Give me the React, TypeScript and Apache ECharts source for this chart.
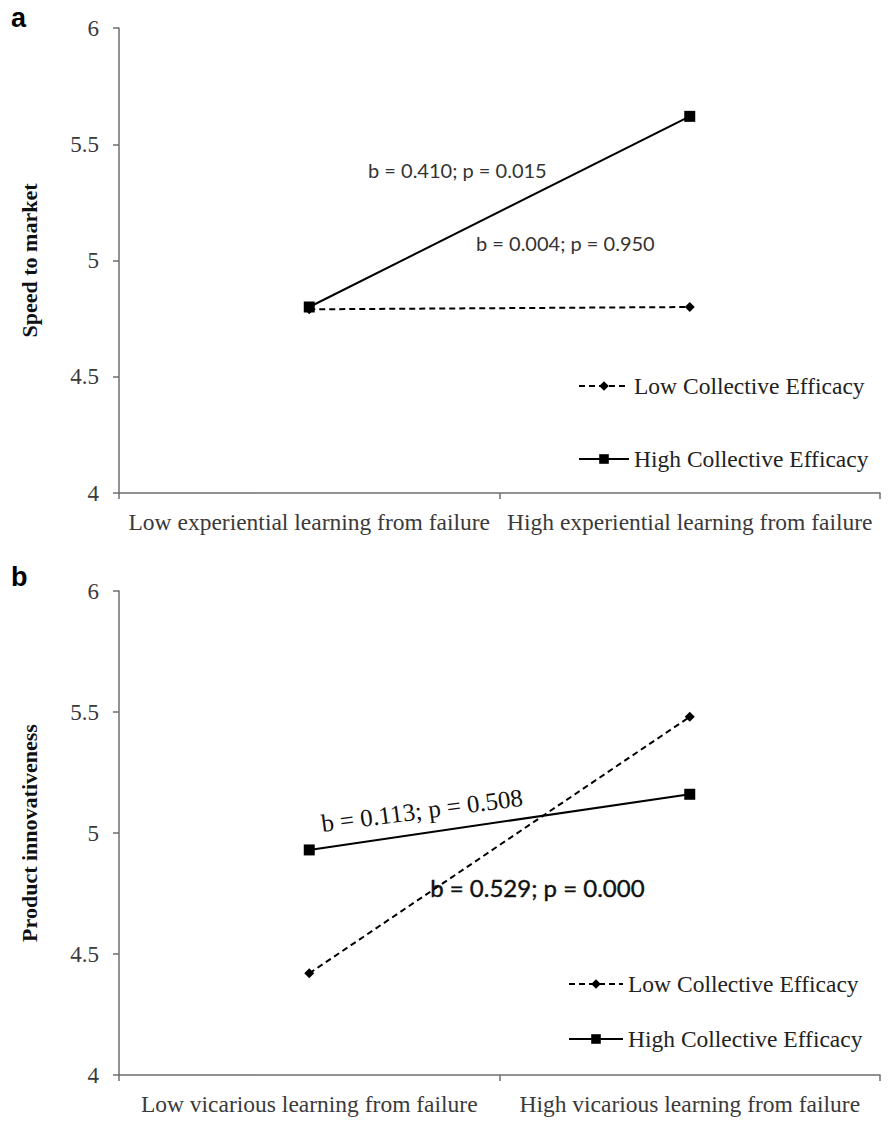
import React, { useEffect, useRef } from "react";
import * as echarts from "echarts";

const categoriesA = ["Low experiential learning from failure", "High experiential learning from failure"];
const categoriesB = ["Low vicarious learning from failure", "High vicarious learning from failure"];
const lowCE_A = [4.79, 4.8];
const highCE_A = [4.8, 5.62];
const lowCE_B = [4.42, 5.48];
const highCE_B = [4.93, 5.16];
const seriesNames = ["Low Collective Efficacy", "High Collective Efficacy"];
const annotations = {
  a1: "b = 0.410; p = 0.015",
  a2: "b = 0.004; p = 0.950",
  b1: "b = 0.113; p = 0.508",
  b2: "b = 0.529; p = 0.000",
};

const SERIF = "'Liberation Serif', 'Times New Roman', serif";
const SANS = "Lato, 'Open Sans', sans-serif";
const AXIS_COLOR = "#6e6e6e";
const LABEL_COLOR = "#3a3a3a";

function makeXAxis(gridIndex: number, data: string[]) {
  return {
    type: "category",
    gridIndex,
    data,
    boundaryGap: true,
    axisLine: { show: true, lineStyle: { color: AXIS_COLOR, width: 1.5 } },
    axisTick: { show: true, length: 6, alignWithLabel: false, lineStyle: { color: AXIS_COLOR, width: 1.5 } },
    axisLabel: { fontFamily: SERIF, fontSize: 23.5, color: LABEL_COLOR, margin: 17, interval: 0, hideOverlap: false },
    splitLine: { show: false },
  };
}

function makeYAxis(gridIndex: number, name: string) {
  return {
    type: "value",
    gridIndex,
    min: 4,
    max: 6,
    interval: 0.5,
    name,
    nameLocation: "middle",
    nameGap: 79,
    nameTextStyle: { fontFamily: SERIF, fontSize: 22, fontWeight: "bold", color: "#111" },
    axisLine: { show: true, lineStyle: { color: AXIS_COLOR, width: 1.5 } },
    axisTick: { show: true, length: 6, inside: false, lineStyle: { color: AXIS_COLOR, width: 1.5 } },
    axisLabel: { fontFamily: SERIF, fontSize: 23, color: LABEL_COLOR, margin: 20 },
    splitLine: { show: false },
  };
}

function lowSeries(idx: number, data: number[]) {
  return {
    name: seriesNames[0],
    type: "line",
    xAxisIndex: idx,
    yAxisIndex: idx,
    data,
    symbol: "diamond",
    symbolSize: 10,
    itemStyle: { color: "#000" },
    lineStyle: { color: "#000", width: 2, type: [6, 4] },
    z: 2,
  };
}

function highSeries(idx: number, data: number[]) {
  return {
    name: seriesNames[1],
    type: "line",
    xAxisIndex: idx,
    yAxisIndex: idx,
    data,
    symbol: "rect",
    symbolSize: 11,
    itemStyle: { color: "#000" },
    lineStyle: { color: "#000", width: 2, type: "solid" },
    z: 3,
  };
}

export default function App() {
  const ref = useRef<HTMLDivElement>(null);
  useEffect(() => {
    if (!ref.current) return;
    const chart = echarts.init(ref.current, undefined, { renderer: "svg" });
    const legendCommon = {
      orient: "vertical",
      itemHeight: 12,
      textStyle: { fontFamily: SERIF, fontSize: 23.5, color: "#222" },
      selectedMode: false,
      data: seriesNames,
    };
    chart.setOption({
      animation: false,
      backgroundColor: "#fff",
      grid: [
        { left: 119, right: 9, top: 28, height: 465 },
        { left: 119, right: 9, top: 591, height: 484 },
      ],
      xAxis: [makeXAxis(0, categoriesA), makeXAxis(1, categoriesB)],
      yAxis: [makeYAxis(0, "Speed to market"), makeYAxis(1, "Product innovativeness")],
      legend: [
        { ...legendCommon, left: 573, top: 369, itemWidth: 50, itemGap: 49 },
        { ...legendCommon, left: 563, top: 967, itemWidth: 54, itemGap: 31 },
      ],
      series: [lowSeries(0, lowCE_A), highSeries(0, highCE_A), lowSeries(1, lowCE_B), highSeries(1, highCE_B)],
      graphic: [
        { type: "text", left: 11, top: 4, style: { text: "a", font: "bold 27px 'Liberation Sans', Arial, sans-serif", fill: "#000" } },
        { type: "text", left: 11, top: 563, style: { text: "b", font: "bold 27px 'Liberation Sans', Arial, sans-serif", fill: "#000" } },
        { type: "text", left: 368, top: 160, style: { text: annotations.a1, font: `20px ${SANS}`, fill: "#333" } },
        { type: "text", left: 476, top: 233, style: { text: annotations.a2, font: `20px ${SANS}`, fill: "#333" } },
        {
          type: "text",
          x: 323,
          y: 836,
          rotation: 0.13,
          style: { text: annotations.b1, font: `25px ${SERIF}`, fill: "#111", textVerticalAlign: "bottom" },
        },
        { type: "text", left: 430, top: 875, style: { text: annotations.b2, font: `24px ${SANS}`, fill: "#111", stroke: "#111", lineWidth: 0.4 } },
      ],
    });
    return () => chart.dispose();
  }, []);
  return <div ref={ref} style={{ position: "absolute", left: 0, top: 0, width: 889, height: 1126 }} />;
}
